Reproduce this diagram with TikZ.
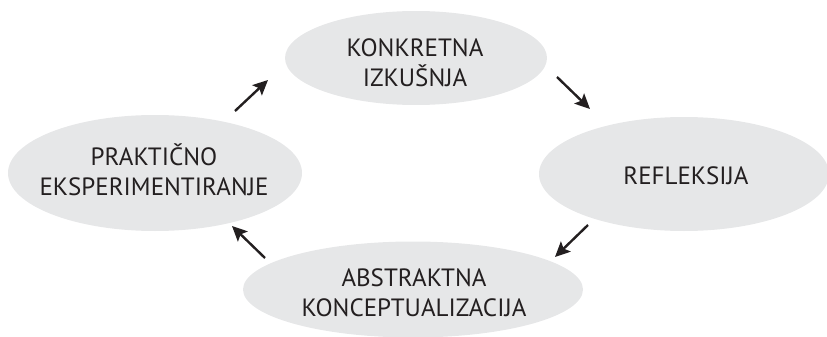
\documentclass[tikz,border=0pt]{standalone}
\usepackage{fontspec}
\setmainfont{PT Sans}
\usetikzlibrary{arrows.meta,shapes.geometric}
\definecolor{ellfill}{HTML}{E6E7E8}
\definecolor{txt}{HTML}{231F20}
\tikzset{
  stage/.style={ellipse, fill=ellfill, inner sep=0pt},
  stagetext/.style={inner sep=0pt, text=txt, align=center,
    font=\fontsize{25}{30}\selectfont},
  cyc/.style={line width=2.4pt, draw=txt, -{Stealth[length=15pt,width=14pt,inset=3pt]}}
}
\begin{document}
\begin{tikzpicture}[x=1pt,y=-1pt]
\useasboundingbox (0,0) rectangle (827,337);
\node[stage, minimum width=262pt, minimum height=94pt] (ki) at (416,58) {};
\node[stage, minimum width=290pt, minimum height=114pt] (re) at (684,174) {};
\node[stage, minimum width=340pt, minimum height=96pt] (ak) at (413,289.5) {};
\node[stage, minimum width=294pt, minimum height=116pt] (pe) at (155,173) {};
\node[stagetext] (kit) at (415,62.5) {KONKRETNA\\IZKUŠNJA};
\node[stagetext] (ret) at (686,176) {REFLEKSIJA};
\node[stagetext] (akt) at (414,292.5) {ABSTRAKTNA\\KONCEPTUALIZACIJA};
\node[stagetext] (pet) at (154,169.5) {PRAKTIČNO\\EKSPERIMENTIRANJE};
\coordinate (a1s) at (235,111); \coordinate (a1e) at (268,80);
\coordinate (a2s) at (557,77);  \coordinate (a2e) at (590,109);
\coordinate (a3s) at (588,225); \coordinate (a3e) at (555,257);
\coordinate (a4s) at (265,258); \coordinate (a4e) at (232,226);
\draw[cyc] (a1s) -- (a1e);
\draw[cyc] (a2s) -- (a2e);
\draw[cyc] (a3s) -- (a3e);
\draw[cyc] (a4s) -- (a4e);
\end{tikzpicture}
\end{document}
